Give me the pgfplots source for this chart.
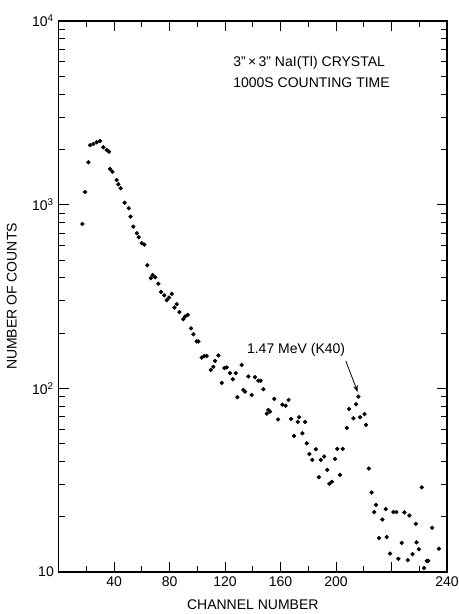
\documentclass[border=0pt]{standalone}
\usepackage{fontspec}
\setmainfont{Liberation Sans}
\usepackage{pgfplots}
\pgfplotsset{compat=1.18}
\usetikzlibrary{arrows.meta}

\begin{document}
\begin{tikzpicture}
\useasboundingbox (-43.9pt,-31.5pt) rectangle (299.6pt,429pt);
\begin{axis}[
    scale only axis,
    width=291.4pt, height=413.25pt,
    ymode=log,
    xmin=0, xmax=280, ymin=10, ymax=10000,
    axis line style={line width=0.9pt},
    every tick/.style={black, line width=0.6pt},
    major tick length=7.5pt,
    minor tick length=4.5pt,
    tick align=inside,
    xtick={40,80,120,160,200,240,280},
    xticklabels={40,80,120,160,200,,240},
    minor xtick={20,60,100,140,180,220,260},
    ytick={10,100,1000,10000},
    yticklabels={10,10\textsuperscript{2},10\textsuperscript{3},10\textsuperscript{4}},
    minor ytick={20,30,40,50,60,70,80,90,200,300,400,500,600,700,800,900,2000,3000,4000,5000,6000,7000,8000,9000},
    tick label style={font=\fontsize{10.5}{12}\selectfont},
    xlabel={CHANNEL NUMBER},
    ylabel={NUMBER OF COUNTS},
    label style={font=\fontsize{10.5}{12}\selectfont},
    xlabel style={at={(axis description cs:0.5,-0.06)}, anchor=center},
    ylabel style={at={(axis description cs:-0.12,0.5)}, anchor=center},
]
\addplot[only marks, mark=*, mark size=1.4pt, black] coordinates {
(17.2,785) (19.1,1172) (21.5,1701) (22.7,2106) (25.1,2140) (27.5,2186)
(29.9,2222) (32.3,2054) (34.7,1985) (36.4,1943) (37.1,1565) (38.8,1512)
(41.9,1363) (43.1,1291) (44.8,1228) (47.7,1024) (50.6,956) (51.9,860)
(53.9,759) (56.4,699) (57.8,665) (60.0,617) (61.8,606) (64.0,468)
(66.5,398) (67.8,414) (69.6,402) (71.9,371) (73.9,335) (76.2,321)
(78.0,302) (79.6,312) (81.6,327) (83.5,275) (85.2,287) (87.1,260)
(89.9,238) (91.2,246) (93.1,251) (95.5,212) (97.2,197) (99.6,180)
(100.8,180) (103.2,147) (105.1,150) (106.8,150) (109.7,126) (111.6,131)
(112.8,141) (115.2,151) (117.6,107) (119.5,129) (121.2,130) (123.6,121)
(125.6,112) (127.7,121) (128.9,89.5) (132.0,134) (133.2,98.0) (134.4,95.9)
(136.8,116) (139.2,92.0) (141.6,115) (144.0,110) (145.7,110) (147.6,98.9)
(150.1,72.8) (151.2,76.3) (152.4,74.7) (155.5,87.6) (158.2,67.7) (161.3,81.5)
(163.7,80.4) (165.8,86.5) (167.6,68.1) (169.7,55.1) (172.4,65.6) (173.3,69.6)
(175.7,56.9) (177.7,65.6) (178.9,50.2) (180.8,43.9) (182.9,40.8) (185.4,46.6)
(187.7,32.8) (189.0,40.8) (191.4,42.5) (193.7,36.0) (195.2,30.2) (196.9,31.0)
(199.3,41.3) (200.9,46.8) (202.9,33.8) (204.8,46.8) (207.7,60.9) (209.4,77.2)
(212.5,68.7) (214.4,81.9) (216.1,90.1) (217.3,69.6) (220.5,72.4) (221.6,63.2)
(223.6,36.6) (225.7,27.1) (227.5,21.2) (228.8,23.2) (231.0,15.3) (233.4,19.3)
(235.8,22.0) (236.5,15.5) (238.9,12.6) (241.3,21.2) (243.5,21.2) (244.9,11.8)
(247.3,14.4) (249.2,21.1) (251.7,11.6) (252.8,20.3) (255.1,12.5) (257.5,18.3)
(258.0,14.5) (259.7,13.3) (261.8,28.9) (263.4,10.5) (265.4,11.5) (266.5,11.5)
(269.2,17.4) (274.1,13.4)
};
\node[anchor=west, align=left, inner sep=0pt, font=\fontsize{10.5}{15.75}\selectfont]
  at (axis cs:125.8,5309) {3''\,×\,3'' NaI(Tl) CRYSTAL\\1000S COUNTING TIME};
\node[font=\fontsize{10.5}{12}\selectfont] at (axis cs:171.2,161.8) {1.47 MeV (K40)};
\draw[-{Stealth[length=5pt,width=3.5pt]}, line width=0.6pt]
  (axis cs:207,141) -- (axis cs:215.6,95.5);
\end{axis}
\end{tikzpicture}
\end{document}
